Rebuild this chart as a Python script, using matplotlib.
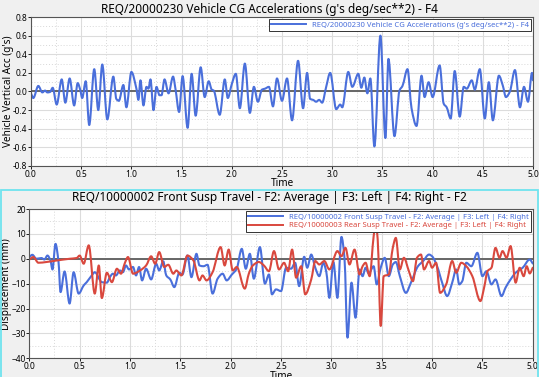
import matplotlib
matplotlib.use("Agg")
import numpy as np
import matplotlib.pyplot as plt
from matplotlib.ticker import MultipleLocator
from matplotlib.patches import Rectangle, PathPatch
from matplotlib.path import Path
from matplotlib.lines import Line2D

# Vehicle CG vertical acceleration (g's) at its peaks/troughs.
acc_time = [0.0, 0.023, 0.073, 0.113, 0.14, 0.163, 0.19, 0.216, 0.256, 0.306,
            0.342, 0.385, 0.43, 0.465, 0.49, 0.51, 0.545, 0.58, 0.63, 0.67,
            0.71, 0.76, 0.82, 0.85, 0.875, 0.92, 0.95, 1.0, 1.05, 1.07,
            1.09, 1.12, 1.15, 1.17, 1.19, 1.22, 1.25, 1.28, 1.30, 1.33,
            1.37, 1.415, 1.44, 1.475, 1.51, 1.56, 1.60, 1.64, 1.69, 1.73,
            1.77, 1.80, 1.82, 1.88, 1.93, 1.96, 2.00, 2.04, 2.08, 2.13,
            2.18, 2.22, 2.26, 2.30, 2.33, 2.37, 2.41, 2.45, 2.50, 2.55,
            2.60, 2.66, 2.71, 2.75, 2.78, 2.81, 2.84, 2.87, 2.90, 2.94,
            2.98, 3.04, 3.08, 3.10, 3.16, 3.20, 3.26, 3.29, 3.32, 3.35,
            3.38, 3.42, 3.48, 3.53, 3.56, 3.62, 3.67, 3.70, 3.75, 3.79,
            3.84, 3.89, 3.92, 3.96, 4.00, 4.07, 4.11, 4.14, 4.18, 4.22,
            4.27, 4.31, 4.34, 4.39, 4.42, 4.47, 4.52, 4.56, 4.60, 4.66,
            4.70, 4.73, 4.77, 4.82, 4.87, 4.91, 4.95, 4.99, 5.0]
acc_vals = [-0.02, -0.07, 0.06, -0.01, 0.01, -0.01, -0.005, 0.04, -0.14, 0.13,
            -0.12, 0.14, -0.15, 0.09, 0.02, -0.07, 0.11, -0.36, 0.24, -0.20,
            0.29, -0.30, 0.16, -0.08, -0.10, 0.07, -0.17, 0.21, 0.03, -0.09,
            0.12, -0.15, 0.05, 0.03, 0.13, -0.20, 0.05, -0.04, -0.04, 0.13,
            -0.02, 0.16, 0.02, -0.22, 0.165, -0.39, 0.19, -0.26, 0.26, -0.06,
            0.11, 0.02, 0.01, -0.25, 0.13, -0.07, 0.08, 0.19, -0.18, 0.30,
            -0.23, 0.05, -0.11, 0.02, 0.03, 0.05, -0.16, 0.14, -0.10, 0.14,
            -0.31, 0.33, -0.18, 0.20, -0.08, -0.09, -0.11, -0.09, -0.12, 0.05,
            0.20, -0.19, -0.14, -0.17, 0.21, 0.05, 0.19, 0.04, 0.15, -0.02,
            0.14, -0.59, 0.60, -0.50, 0.35, -0.48, 0.01, 0.06, 0.24, -0.18,
            -0.37, 0.17, -0.06, 0.10, -0.06, 0.28, -0.13, -0.17, -0.29, 0.22,
            -0.27, 0.05, 0.03, 0.12, 0.02, 0.24, -0.29, 0.10, -0.31, 0.17,
            0.06, -0.06, 0.0, 0.23, -0.17, 0.05, -0.11, 0.20, 0.12]

# Front suspension travel (mm)
front_time = [0.0, 0.03, 0.07, 0.12, 0.15, 0.18, 0.21, 0.23, 0.26, 0.29,
              0.31, 0.35, 0.40, 0.44, 0.49, 0.54, 0.57, 0.62, 0.65, 0.72,
              0.77, 0.80, 0.83, 0.86, 0.90, 0.93, 0.96, 0.99, 1.03, 1.06,
              1.09, 1.12, 1.16, 1.21, 1.26, 1.29, 1.33, 1.36, 1.40, 1.44,
              1.49, 1.52, 1.57, 1.61, 1.66, 1.69, 1.73, 1.77, 1.82, 1.87,
              1.92, 1.96, 2.01, 2.06, 2.11, 2.15, 2.19, 2.23, 2.29, 2.34,
              2.38, 2.41, 2.45, 2.50, 2.55, 2.60, 2.64, 2.68, 2.73, 2.76,
              2.80, 2.84, 2.88, 2.92, 2.95, 2.98, 3.02, 3.06, 3.10, 3.13,
              3.16, 3.20, 3.24, 3.28, 3.31, 3.34, 3.37, 3.42, 3.45, 3.49,
              3.53, 3.57, 3.61, 3.64, 3.68, 3.74, 3.79, 3.86, 3.91, 3.97,
              4.00, 4.05, 4.10, 4.15, 4.20, 4.24, 4.27, 4.30, 4.34, 4.39,
              4.45, 4.50, 4.54, 4.59, 4.63, 4.69, 4.73, 4.78, 4.83, 4.90,
              4.97, 5.0]
front_vals = [0.7, 1.6, 0.0, 0.3, -0.3, 1.3, -0.7, -4.3, 6.0, -1.3,
              -13.4, -5.1, -18.0, -5.4, -14.0, -10.7, -9.4, -6.7, -5.4, -9.4,
              -9.6, -7.4, -6.0, -6.7, -4.7, -5.4, -2.7, -4.3, -3.3, -6.7,
              -3.3, -8.7, -4.0, -8.3, -2.0, -4.7, -1.0, -6.7, -8.3, -11.4,
              -5.6, -6.4, 1.3, -7.4, 2.0, -2.7, -3.0, -2.4, -14.0, -8.0,
              -6.0, -8.7, -6.4, -4.0, 4.0, -4.0, 2.0, -8.0, 4.7, -10.0,
              -6.3, -14.3, -12.3, -13.0, -3.6, -4.0, -1.6, -11.0, 0.8, -3.6,
              1.7, -3.6, -7.0, -1.6, -5.4, -15.7, -1.3, -15.7, 8.8, 0.4,
              -31.7, -9.6, -23.7, -4.3, -7.0, -3.6, -5.9, -3.0, -10.3, -3.6,
              0.4, -7.0, -2.3, -1.3, -7.0, -13.7, -9.6, -3.0, -1.0, 1.7,
              1.0, -3.0, -9.6, -15.0, -9.6, -4.3, -10.3, -9.0, -1.6, -3.0,
              2.4, -7.0, -5.0, -10.3, -8.3, -15.0, -11.6, -8.3, -5.6, -3.6,
              -0.3, -1.9]

# Rear suspension travel (mm)
rear_time = [0.0, 0.04, 0.09, 0.17, 0.27, 0.40, 0.47, 0.50, 0.54, 0.59,
             0.65, 0.69, 0.72, 0.77, 0.82, 0.87, 0.91, 0.95, 0.98, 1.03,
             1.10, 1.16, 1.21, 1.25, 1.29, 1.34, 1.38, 1.43, 1.46, 1.51,
             1.57, 1.63, 1.69, 1.72, 1.76, 1.82, 1.90, 1.94, 1.98, 2.02,
             2.06, 2.14, 2.18, 2.22, 2.28, 2.33, 2.38, 2.43, 2.48, 2.53,
             2.57, 2.61, 2.65, 2.70, 2.74, 2.80, 2.84, 2.88, 2.93, 2.98,
             3.06, 3.10, 3.14, 3.18, 3.23, 3.28, 3.31, 3.34, 3.38, 3.42,
             3.44, 3.46, 3.49, 3.52, 3.57, 3.61, 3.64, 3.68, 3.72, 3.77,
             3.81, 3.85, 3.89, 3.92, 3.97, 4.00, 4.04, 4.08, 4.14, 4.20,
             4.24, 4.29, 4.34, 4.40, 4.48, 4.52, 4.55, 4.59, 4.63, 4.67,
             4.70, 4.74, 4.78, 4.83, 4.87, 4.91, 4.94, 4.97, 5.0]
rear_vals = [-0.3, 0.7, -1.6, -1.3, -0.7, 0.0, 0.3, 1.3, -2.0, 5.4,
             -14.0, -2.7, -15.8, -5.6, -9.4, -4.0, -6.0, -1.6, 0.7, -6.0,
             -4.7, -2.7, 1.0, -2.0, 2.7, -3.3, -2.4, -6.0, -4.7, -6.7,
             1.3, -0.7, -8.7, -6.7, -8.7, -5.4, 4.7, -2.7, 3.7, -4.7,
             -3.3, -12.0, -6.0, -2.7, -1.3, -2.7, -5.0, 3.1, -4.3, -1.6,
             -5.0, 3.7, -7.6, -3.0, -14.3, -8.3, -0.9, -2.3, -0.9, -4.3,
             3.1, 1.0, 4.4, -2.3, 3.7, -6.3, -3.0, -1.6, -7.0, 9.1,
             14.0, 7.8, -27.0, -7.0, -6.3, 4.4, 8.4, -4.3, 0.4, -5.0,
             -9.0, 0.4, 1.7, -4.3, -0.9, -3.6, -1.6, -13.7, -10.3, -0.9,
             -5.6, -1.6, -3.0, -7.0, -17.0, -11.0, -5.0, -3.6, 4.4, 0.4,
             3.1, 0.4, 5.1, -9.6, -3.6, -7.0, -3.0, -5.9, -3.6]

x_ticks = [0.0, 0.5, 1.0, 1.5, 2.0, 2.5, 3.0, 3.5, 4.0, 4.5, 5.0]

plt.rcParams["font.family"] = ["Noto Sans", "DejaVu Sans"]

blue = "#4a6fdb"
red = "#d9483e"


def smooth_path(t, v):
    # Bezier path through the read points; tangents flatten at peaks/troughs
    t = np.asarray(t, float)
    v = np.asarray(v, float)
    d = np.diff(v) / np.diff(t)
    m = np.zeros_like(v)
    m[0], m[-1] = d[0], d[-1]
    for i in range(1, len(v) - 1):
        if d[i - 1] * d[i] > 0:
            m[i] = 2.0 / (1.0 / d[i - 1] + 1.0 / d[i])
    verts = [(t[0], v[0])]
    codes = [Path.MOVETO]
    for i in range(len(t) - 1):
        h = (t[i + 1] - t[i]) / 3.0
        verts += [(t[i] + h, v[i] + m[i] * h),
                  (t[i + 1] - h, v[i + 1] - m[i + 1] * h),
                  (t[i + 1], v[i + 1])]
        codes += [Path.CURVE4] * 3
    return Path(verts, codes)


def draw_series(ax, t, v, color):
    ax.add_patch(PathPatch(smooth_path(t, v), fill=False, edgecolor=color,
                           linewidth=1.5, capstyle="round", joinstyle="round",
                           zorder=2))


fig = plt.figure(figsize=(5.39, 3.77), dpi=100, facecolor="#f0f0f0")


def style_axes(ax, major_y, minor_y):
    ax.set_facecolor("white")
    ax.set_xlim(0, 5)
    ax.set_xticks(x_ticks)
    ax.xaxis.set_minor_locator(MultipleLocator(0.25))
    ax.yaxis.set_major_locator(MultipleLocator(major_y))
    ax.yaxis.set_minor_locator(MultipleLocator(minor_y))
    ax.grid(which="major", color="#dcdcdc", linewidth=0.8)
    ax.grid(which="minor", color="#d8d8d8", linewidth=0.7, linestyle=(0, (1, 2)))
    ax.set_axisbelow(True)
    ax.tick_params(which="both", labelsize=6, length=2, width=0.6, pad=1)
    ax.tick_params(axis="y", pad=0.5)
    ax.tick_params(which="minor", length=0)
    for s in ax.spines.values():
        s.set_color("#555555")
        s.set_linewidth(0.8)
    ax.axhline(0, color="#666666", linewidth=1.4, zorder=1.5)
    ax.set_xlabel("Time", fontsize=7.2, labelpad=-0.5)


# Top panel: CG accelerations
ax1 = fig.add_axes([0.0575, 0.5597, 0.9314, 0.3952])
style_axes(ax1, 0.2, 0.1)
ax1.set_ylim(-0.8, 0.8)
ax1.yaxis.set_major_formatter(lambda v, p: f"{v:.1f}")
ax1.set_xticklabels([f"{v:.1f}" for v in x_ticks])
draw_series(ax1, acc_time, acc_vals, blue)
ax1.set_ylabel("Vehicle Vertical Acc (g's)", fontsize=7.2)
ax1.yaxis.set_label_coords(-0.034, 0.5)
h1 = [Line2D([], [], color=blue, linewidth=1.4)]
leg1 = ax1.legend(h1, ["REQ/20000230 Vehicle CG Accelerations (g's deg/sec**2) - F4"],
                  loc="upper right", fontsize=5.5, labelcolor="linecolor",
                  fancybox=False, edgecolor="#333333", framealpha=1,
                  borderpad=0.3, handlelength=4.5, borderaxespad=0.25)
leg1.get_frame().set_linewidth(0.7)
fig.text(0.5, 0.975, "REQ/20000230 Vehicle CG Accelerations (g's deg/sec**2) - F4",
         ha="center", va="center", fontsize=8.5)

# Bottom panel: suspension travel
ax2 = fig.add_axes([0.0544, 0.0496, 0.934, 0.396])
style_axes(ax2, 10, 5)
ax2.set_ylim(-40, 20)
ax2.set_xticklabels([f"{v:.1f}" for v in x_ticks])
draw_series(ax2, front_time, front_vals, blue)
draw_series(ax2, rear_time, rear_vals, red)
ax2.set_ylabel("Displacement (mm)", fontsize=7.2)
ax2.yaxis.set_label_coords(-0.034, 0.5)
h2 = [Line2D([], [], color=blue, linewidth=1.4), Line2D([], [], color=red, linewidth=1.4)]
leg2 = ax2.legend(h2, ["REQ/10000002 Front Susp Travel - F2: Average | F3: Left | F4: Right",
                       "REQ/10000003 Rear Susp Travel - F2: Average | F3: Left | F4: Right"],
                  loc="upper right", fontsize=5.5, labelcolor="linecolor",
                  fancybox=False, edgecolor="#333333", framealpha=1,
                  borderpad=0.3, handlelength=4.5, borderaxespad=0.25,
                  labelspacing=0.2)
leg2.get_frame().set_linewidth(0.7)
leg2.set_zorder(5)
fig.text(0.5, 0.477, "REQ/10000002 Front Susp Travel - F2: Average | F3: Left | F4: Right - F2",
         ha="center", va="center", fontsize=8.5)

# Cyan frame around the selected (bottom) window
fig.patches.append(Rectangle((0.0015, -0.01), 0.997, 0.505, transform=fig.transFigure,
                             fill=False, edgecolor="#6fe3ee", linewidth=1.3))

fig.savefig("out.png", dpi=100, facecolor=fig.get_facecolor())
